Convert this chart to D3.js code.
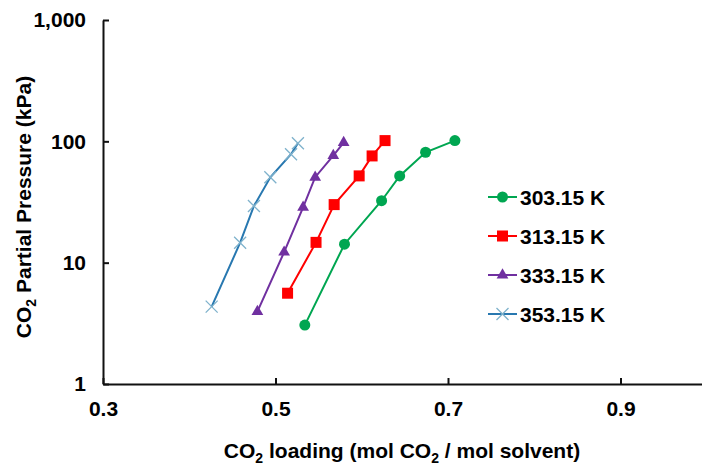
<!DOCTYPE html>
<html lang="en">
<head>
	<meta charset="utf-8">
	<script src="https://d3js.org/d3.v7.min.js"></script>
	<style>
		body { margin: 0; background: white; }
		text { font-family: "Liberation Sans", Arial, sans-serif; font-weight: bold; fill: black; }
	</style>
</head>
<body>
	<script>
	// series (loading in mol CO2 / mol solvent, pressure in kPa)
	var temps = ["303.15 K", "313.15 K", "333.15 K", "353.15 K"];
	var load303 = [0.534, 0.580, 0.623, 0.644, 0.674, 0.708];
	var pres303 = [3.06, 14.2, 32.4, 51.9, 81.3, 101.4];
	var load313 = [0.514, 0.547, 0.568, 0.597, 0.612, 0.627];
	var pres313 = [5.6, 14.7, 30.1, 51.9, 75.8, 101.4];
	var load333 = [0.479, 0.510, 0.532, 0.546, 0.567, 0.579];
	var pres333 = [3.95, 12.2, 28.6, 50.6, 76.2, 97.5];
	var load353 = [0.426, 0.459, 0.475, 0.494, 0.518, 0.526];
	var pres353 = [4.34, 14.6, 29.3, 50.6, 78.3, 96.5];

	var xTicks = [0.3, 0.5, 0.7, 0.9];
	var yTicks = [1, 10, 100, 1000];

	var colors = ["#00a651", "#ff0000", "#7030a0", "#2878b0"];
	var markers = ["circle", "square", "triangle", "cross"];

	var loads = [load303, load313, load333, load353];
	var press = [pres303, pres313, pres333, pres353];
	var series = temps.map(function (t, i) {
		return {
			name: t, color: colors[i], marker: markers[i],
			points: loads[i].map(function (v, j) { return { x: v, y: press[i][j] }; })
		};
	});

	var width = 702;
	var height = 466;
	var marginLeft = 103, marginTop = 20, plotW = 690, plotH = 364;

	var svg = d3.select("body").append("svg")
		.attr("width", width)
		.attr("height", height);

	var g = svg.append("g")
		.attr("transform", "translate(" + marginLeft + "," + marginTop + ")");

	// x runs to 1.1, the right part is cut off by the picture edge
	var x = d3.scaleLinear().domain([0.3, 1.1]).range([0, plotW]);
	var y = d3.scaleLog().domain([1, 1000]).range([plotH, 0]);

	var xAxis = g.append("g")
		.attr("transform", "translate(0," + plotH + ")")
		.call(d3.axisBottom(x).tickValues(xTicks).tickFormat(d3.format(".1f"))
			.tickSizeInner(-6).tickSizeOuter(0).tickPadding(17));
	var yAxis = g.append("g")
		.call(d3.axisLeft(y).tickValues(yTicks).tickFormat(d3.format(","))
			.tickSizeInner(-6).tickSizeOuter(0).tickPadding(17));

	[xAxis, yAxis].forEach(function (a) {
		a.select(".domain").attr("stroke", "#111").attr("stroke-width", 2);
		a.selectAll(".tick line").attr("stroke", "#111").attr("stroke-width", 2);
		a.selectAll(".tick text")
			.style("font-family", "'Liberation Sans', Arial, sans-serif")
			.style("font-weight", "bold")
			.style("font-size", "21px")
			.attr("fill", "#111");
	});

	var line = d3.line()
		.x(function (d) { return x(d.x); })
		.y(function (d) { return y(d.y); });

	// draws one marker at 0,0 inside a given group
	function drawMarker(sel, kind, color) {
		if (kind == "circle") {
			sel.append("circle").attr("r", 5.5).attr("fill", color);
		} else if (kind == "square") {
			sel.append("rect").attr("x", -5.5).attr("y", -5.5)
				.attr("width", 11).attr("height", 11).attr("fill", color);
		} else if (kind == "triangle") {
			sel.append("path")
				.attr("d", d3.symbol().type(d3.symbolTriangle).size(60)())
				.attr("fill", color);
		} else {
			sel.append("path")
				.attr("d", "M-6,-6L6,6M-6,6L6,-6")
				.attr("stroke", "#7fb2cc")
				.attr("stroke-width", 1.3)
				.attr("fill", "none");
		}
	}

	series.forEach(function (s) {
		g.append("path")
			.datum(s.points)
			.attr("d", line)
			.attr("fill", "none")
			.attr("stroke", s.color)
			.attr("stroke-width", 2);

		g.selectAll(null)
			.data(s.points)
			.enter()
			.append("g")
			.attr("transform", function (d) { return "translate(" + x(d.x) + "," + y(d.y) + ")"; })
			.each(function () { drawMarker(d3.select(this), s.marker, s.color); });
	});

	// legend
	var legend = svg.append("g").attr("transform", "translate(488,197)");
	series.forEach(function (s, i) {
		var row = legend.append("g").attr("transform", "translate(0," + (i * 39) + ")");
		row.append("line")
			.attr("x1", 0).attr("x2", 29)
			.attr("stroke", s.color).attr("stroke-width", 2);
		drawMarker(row.append("g").attr("transform", "translate(14.5,0)"), s.marker, s.color);
		row.append("text")
			.attr("x", 32)
			.attr("dy", "0.36em")
			.style("font-size", "21px")
			.text(s.name);
	});

	// axis titles with subscript 2
	var xt = svg.append("text")
		.attr("x", 402)
		.attr("y", 458)
		.attr("text-anchor", "middle")
		.style("font-size", "21px");
	xt.append("tspan").text("CO");
	xt.append("tspan").attr("dy", 5).style("font-size", "14px").text("2");
	xt.append("tspan").attr("dy", -5).text(" loading (mol CO");
	xt.append("tspan").attr("dy", 5).style("font-size", "14px").text("2");
	xt.append("tspan").attr("dy", -5).text(" / mol solvent)");

	var yt = svg.append("text")
		.attr("transform", "translate(31," + (marginTop + plotH / 2 + 5) + ") rotate(-90)")
		.attr("text-anchor", "middle")
		.style("font-size", "21px");
	yt.append("tspan").text("CO");
	yt.append("tspan").attr("dy", 5).style("font-size", "14px").text("2");
	yt.append("tspan").attr("dy", -5).text(" Partial Pressure (kPa)");
	</script>
</body>
</html>
